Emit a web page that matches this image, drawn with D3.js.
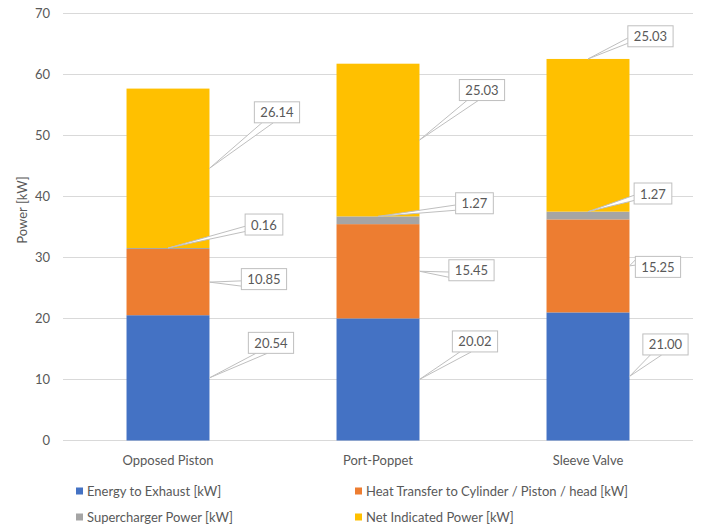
<!DOCTYPE html>
<html>
<head>
<meta charset="utf-8">
<script src="https://cdn.jsdelivr.net/npm/d3@7"></script>
<style>
  html, body { margin: 0; padding: 0; background: #ffffff; }
  svg { display: block; font-family: Lato, "Open Sans", sans-serif; }
</style>
</head>
<body>
<svg id="chart" width="703" height="529"></svg>
<script>
// Engine configurations and their power breakdown (kW)
const categories = ["Opposed Piston", "Port-Poppet", "Sleeve Valve"];
const seriesNames = [
  "Energy to Exhaust [kW]",
  "Heat Transfer to Cylinder / Piston / head [kW]",
  "Supercharger Power [kW]",
  "Net Indicated Power [kW]"
];
const energyToExhaust = [20.54, 20.02, 21.00];
const heatTransfer = [10.85, 15.45, 15.25];
const superchargerPower = [0.16, 1.27, 1.27];
const netIndicatedPower = [26.14, 25.03, 25.03];
const yTicks = [0, 10, 20, 30, 40, 50, 60, 70];

const colors = ["#4472C4", "#ED7D31", "#A5A5A5", "#FFC000"];

// Callout box placement: offset of the box centre from the segment's right-middle point
// [category][series] -> [dx, dy]
const calloutOffsets = [
  [[61.5, -35], [54.5, -3], [54.5, -24], [67.5, -56]],
  [[55.5, -38], [52, -1], [55, -17], [62.5, -50]],
  [[36, -32], [28.5, 1], [23.5, -22], [21, -99]]
];

const svg = d3.select("#chart");
const plot = { left: 63, right: 693, top: 13.5, bottom: 440.5 };

const x = d3.scaleBand().domain(categories).range([plot.left, plot.right]).padding(0);
const barWidth = x.bandwidth() * 0.395;
const y = d3.scaleLinear().domain([0, 70]).range([plot.bottom, plot.top]);

// Gridlines
svg.append("g")
  .selectAll("line")
  .data(yTicks)
  .join("line")
  .attr("x1", plot.left).attr("x2", plot.right)
  .attr("y1", d => y(d)).attr("y2", d => y(d))
  .attr("stroke", "#D9D9D9").attr("stroke-width", 1);

// Y axis tick labels
const yAxis = d3.axisLeft(y).tickValues(yTicks).tickSize(0).tickPadding(13);
svg.append("g")
  .attr("transform", `translate(${plot.left},0)`)
  .call(yAxis)
  .call(g => g.select(".domain").remove())
  .call(g => g.selectAll("text").attr("fill", "#595959").style("font-size", "13px").style("font-family", "Lato, sans-serif"));

// Y axis title
svg.append("text")
  .attr("transform", `translate(27,${(plot.top + plot.bottom) / 2 - 17}) rotate(-90)`)
  .attr("text-anchor", "middle")
  .attr("fill", "#595959")
  .style("font-size", "13px")
  .text("Power [kW]");

// X axis labels
const xAxis = d3.axisBottom(x).tickSize(0).tickPadding(15);
svg.append("g")
  .attr("transform", `translate(0,${plot.bottom})`)
  .call(xAxis)
  .call(g => g.select(".domain").remove())
  .call(g => g.selectAll("text").attr("fill", "#595959").style("font-size", "13px").style("font-family", "Lato, sans-serif"));

// Stack the series
const rows = categories.map((c, i) => ({
  category: c,
  s0: energyToExhaust[i],
  s1: heatTransfer[i],
  s2: superchargerPower[i],
  s3: netIndicatedPower[i]
}));
const keys = ["s0", "s1", "s2", "s3"];
const stacked = d3.stack().keys(keys)(rows);

const barsG = svg.append("g");
stacked.forEach((layer, si) => {
  barsG.selectAll(null)
    .data(layer)
    .join("rect")
    .attr("x", d => x(d.data.category) + (x.bandwidth() - barWidth) / 2)
    .attr("width", barWidth)
    .attr("y", d => y(d[1]))
    .attr("height", d => y(d[0]) - y(d[1]))
    .attr("fill", colors[si]);
});

// Callouts with wedge pointers
const calloutG = svg.append("g");
stacked.forEach((layer, si) => {
  layer.forEach((d, ci) => {
    const value = d[1] - d[0];
    const xLeft = x(d.data.category) + (x.bandwidth() - barWidth) / 2;
    const xRight = xLeft + barWidth;
    const yTop = y(d[1]);
    const midY = (y(d[0]) + y(d[1])) / 2;
    const [dx, dy] = calloutOffsets[ci][si];
    const cx = xRight + dx, cy = midY + dy;

    const g = calloutG.append("g");
    const txt = g.append("text")
      .attr("x", cx).attr("y", cy)
      .attr("text-anchor", "middle")
      .attr("dominant-baseline", "central")
      .attr("fill", "#595959")
      .style("font-size", "13px")
      .text(value.toFixed(2));
    const tw = txt.node().getComputedTextLength();
    const w = tw + 12, h = 21;
    const bx = cx - w / 2, by = cy - h / 2;

    // Pointer target: top-centre if the box sits above the segment, else right-middle
    let tx, ty;
    if (by + h < yTop) { tx = (xLeft + xRight) / 2; ty = yTop; }
    else { tx = xRight; ty = midY; }

    const ndx = (tx - cx) / (w / 2), ndy = (ty - cy) / (h / 2);
    let pts;
    if (Math.abs(ndx) > Math.abs(ndy)) {
      const sx = ndx < 0 ? bx : bx + w;
      const f = ndy > 0 ? [7 / 12, 10 / 12] : [2 / 12, 5 / 12];
      pts = [[sx, by + h * f[0]], [tx, ty], [sx, by + h * f[1]]];
    } else {
      const sy = ndy < 0 ? by : by + h;
      const f = ndx < 0 ? [2 / 12, 5 / 12] : [7 / 12, 10 / 12];
      pts = [[bx + w * f[0], sy], [tx, ty], [bx + w * f[1], sy]];
    }

    g.insert("path", "text")
      .attr("d", d3.line()(pts))
      .attr("fill", "#ffffff")
      .attr("stroke", "#BFBFBF")
      .attr("stroke-width", 1);
    g.insert("rect", "text")
      .attr("x", bx).attr("y", by)
      .attr("width", w).attr("height", h)
      .attr("fill", "#ffffff")
      .attr("stroke", "#BFBFBF")
      .attr("stroke-width", 1);
  });
});

// Legend
const legendPos = [[76, 491], [355, 491], [76, 517], [355, 517]];
const legend = svg.append("g");
seriesNames.forEach((name, i) => {
  const [lx, ly] = legendPos[i];
  legend.append("rect")
    .attr("x", lx).attr("y", ly - 3.5)
    .attr("width", 7).attr("height", 7)
    .attr("fill", colors[i]);
  legend.append("text")
    .attr("x", lx + 11).attr("y", ly)
    .attr("dominant-baseline", "central")
    .attr("fill", "#595959")
    .style("font-size", "13px")
    .text(name);
});
</script>
</body>
</html>
